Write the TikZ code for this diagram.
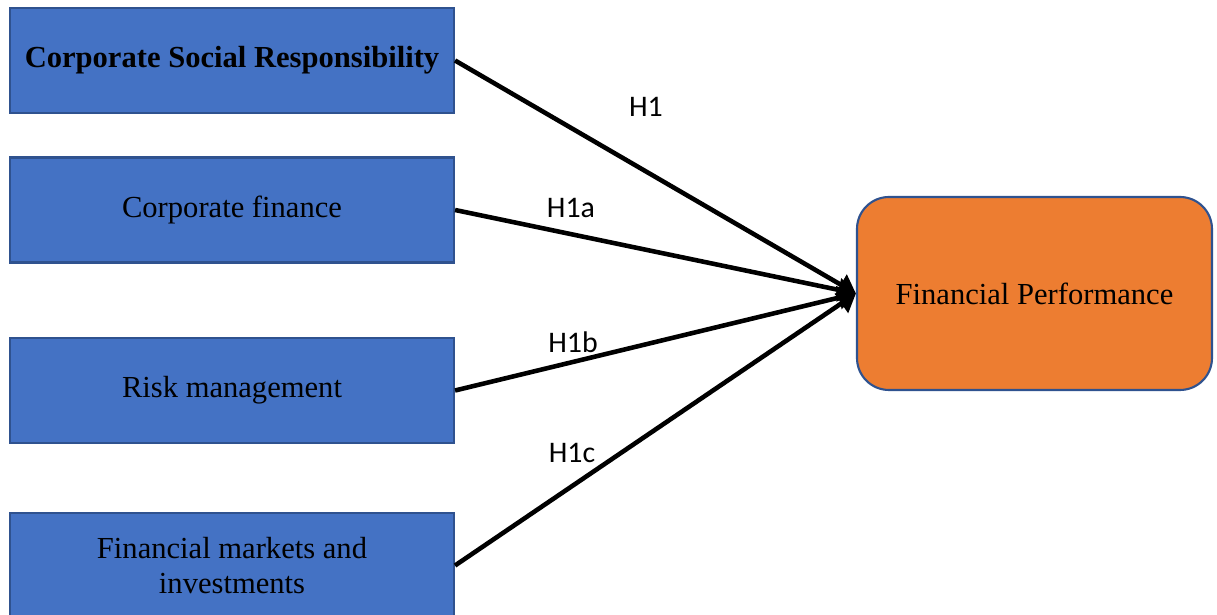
\documentclass[tikz,border=0pt]{standalone}
\usepackage{fontspec}
\setmainfont{Liberation Serif}
\newfontfamily\hfont{Carlito}
\usetikzlibrary{arrows.meta,positioning}
\definecolor{boxblue}{HTML}{4472C4}
\definecolor{boxedge}{HTML}{2F528F}
\definecolor{perforange}{HTML}{ED7D31}
\newcommand{\HypTip}{Triangle[length=5pt,width=6.5pt]}
\tikzset{box/.style={draw=boxedge,fill=boxblue,line width=.6pt,minimum width=4.44cm,minimum height=1.05cm,align=center,font=\fontsize{8.7}{9.8}\selectfont,inner sep=0},
perf/.style={draw=boxedge,fill=perforange,line width=.6pt,rounded corners=.32cm,minimum width=3.55cm,minimum height=1.93cm,align=center,font=\fontsize{8.7}{9.8}\selectfont},
hyp/.style={font=\hfont\fontsize{8.5}{10}\selectfont,inner sep=0},
link/.style={line width=1.3pt,-{\HypTip}}}
\begin{document}
\begin{tikzpicture}
\useasboundingbox(0,0)rectangle(12.17,6.15);
\node[box](csr)at(2.32,5.545){\textbf{Corporate Social Responsibility}};
\node[box](cf)at(2.32,4.05){Corporate finance};
\node[box](rm)at(2.32,2.245){Risk management};
\node[box](fm)at(2.32,.495){Financial markets and\\investments};
\node[perf](fp)at(10.345,3.215){Financial Performance};
% hypotheses
\draw[link](csr.east)--(fp.west);\draw[link](cf.east)--(fp.west);
\draw[link](rm.east)--(fp.west);\draw[link](fm.east)--(fp.west);
\node[hyp](h1)at(6.46,5.08){H1};\node[hyp](h1a)at(5.71,4.07){H1a};
\node[hyp](h1b)at(5.73,2.73){H1b};\node[hyp](h1c)at(5.72,1.62){H1c};
\end{tikzpicture}
\end{document}
